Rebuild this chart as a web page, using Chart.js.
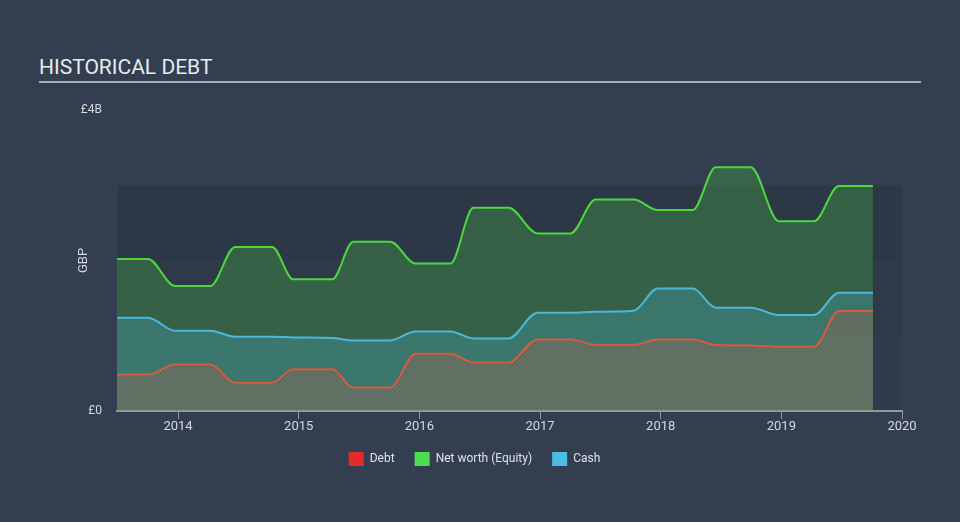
<!DOCTYPE html>
<html>
<head>
<meta charset="utf-8">
<script src="https://cdn.jsdelivr.net/npm/chart.js@4/dist/chart.umd.min.js"></script>
<style>
  html, body { margin: 0; padding: 0; background: #333f50; }
  #wrap { position: relative; width: 960px; height: 522px; overflow: hidden; }
  #title {
    position: absolute; left: 39px; top: 55px; width: 882px;
    font-family: Roboto, sans-serif; font-size: 21px; color: #e8eaec;
    padding-bottom: 2px; border-bottom: 2px solid #a7adb5; line-height: 24px;
  }
  canvas { position: absolute; left: 0; top: 0; }
</style>
</head>
<body>
<div id="wrap">
  <div id="title">HISTORICAL DEBT</div>
  <canvas id="chart" width="960" height="522"></canvas>
</div>
<script>
// plateau boundaries, in years
const dates = [2013.494, 2013.751, 2013.975, 2014.266, 2014.473, 2014.780, 2014.954, 2015.278,
  2015.452, 2015.759, 2015.967, 2016.257, 2016.448, 2016.739, 2016.979, 2017.253,
  2017.461, 2017.776, 2017.975, 2018.266, 2018.456, 2018.747, 2018.979, 2019.270,
  2019.477, 2019.759]

// values in £ billions
const debt = [0.484, 0.484, 0.617, 0.617, 0.377, 0.377, 0.556, 0.556, 0.311, 0.311,
  0.76, 0.76, 0.644, 0.644, 0.951, 0.951, 0.88, 0.88, 0.951, 0.951,
  0.876, 0.872, 0.853, 0.853, 1.329, 1.329]
const netWorth = [2.02, 2.02, 1.66, 1.66, 2.18, 2.18, 1.75, 1.75, 2.25, 2.25,
  1.96, 1.96, 2.70, 2.70, 2.36, 2.36, 2.81, 2.81, 2.67, 2.67,
  3.24, 3.24, 2.52, 2.52, 2.99, 2.99]
const cash = [1.24, 1.24, 1.067, 1.067, 0.987, 0.987, 0.977, 0.969, 0.937, 0.937,
  1.057, 1.057, 0.964, 0.964, 1.307, 1.307, 1.32, 1.333, 1.627, 1.627,
  1.373, 1.373, 1.276, 1.276, 1.573, 1.573]

const yearTicks = [2014, 2015, 2016, 2017, 2018, 2019, 2020]
const valueTicks = [0, 4]

const toPoints = vals => vals.map((v, i) => ({ x: dates[i], y: v }))

// diagonal hatch for the debt area
const hatchCanvas = document.createElement('canvas')
hatchCanvas.width = 4
hatchCanvas.height = 4
const hctx = hatchCanvas.getContext('2d')
hctx.strokeStyle = 'rgba(190, 95, 75, 0.6)'
hctx.lineWidth = 1.4
hctx.beginPath()
hctx.moveTo(-1, 5); hctx.lineTo(5, -1)
hctx.moveTo(-1, 1); hctx.lineTo(1, -1)
hctx.moveTo(3, 5); hctx.lineTo(5, 3)
hctx.stroke()
const hatch = hctx.createPattern(hatchCanvas, 'repeat')

const legendColours = ['#e42a2a', '#4be04b', '#4bbde2']

const plotBands = {
  id: 'plotBands',
  beforeDraw (chart) {
    const { ctx, chartArea } = chart
    const y = chart.scales.y
    const shades = ['rgba(0,0,0,0.06)', 'rgba(0,0,0,0.08)', 'rgba(0,0,0,0.10)']
    for (let i = 0; i < 3; i++) {
      const top = y.getPixelForValue(i + 1)
      const bottom = y.getPixelForValue(i)
      ctx.fillStyle = shades[i]
      ctx.fillRect(chartArea.left, top, chartArea.right - chartArea.left, bottom - top)
    }
  }
}

Chart.defaults.font.family = 'Roboto, sans-serif'

new Chart(document.getElementById('chart').getContext('2d'), {
  type: 'line',
  data: {
    datasets: [
      {
        label: 'Debt',
        data: toPoints(debt),
        borderColor: '#d65a3f',
        backgroundColor: hatch,
        fill: 'origin',
        order: 1
      }, {
        label: 'Net worth (Equity)',
        data: toPoints(netWorth),
        borderColor: '#4ad83e',
        backgroundColor: 'rgba(74, 216, 60, 0.25)',
        fill: 'origin',
        order: 3
      }, {
        label: 'Cash',
        data: toPoints(cash),
        borderColor: '#4ab8dd',
        backgroundColor: 'rgba(75, 185, 225, 0.25)',
        fill: 'origin',
        order: 2
      }
    ]
  },
  options: {
    responsive: false,
    animation: false,
    cubicInterpolationMode: 'monotone',
    elements: {
      point: { radius: 0 },
      line: { borderWidth: 2 }
    },
    layout: { padding: { left: 47, right: 58, top: 110, bottom: 46 } },
    scales: {
      x: {
        type: 'linear',
        min: dates[0],
        max: 2020,
        afterBuildTicks: scale => { scale.ticks = yearTicks.map(v => ({ value: v })) },
        afterFit: scale => { scale.height = 21 },
        ticks: {
          color: '#d4d8de',
          font: { size: 13 },
          padding: 0,
          maxRotation: 0,
          callback: v => String(v)
        },
        grid: {
          drawOnChartArea: false,
          drawTicks: true,
          tickLength: 8,
          color: '#8e99a8'
        },
        border: { color: '#8e99a8', width: 2 }
      },
      y: {
        min: 0,
        max: 4,
        afterBuildTicks: scale => { scale.ticks = valueTicks.map(v => ({ value: v })) },
        afterFit: scale => { scale.width = 70 },
        ticks: {
          color: '#d4d8de',
          font: { size: 12 },
          padding: 15,
          callback: v => v === 0 ? '£0' : '£' + v + 'B'
        },
        grid: { display: false, drawTicks: false },
        border: { display: false },
        title: {
          display: true,
          text: 'GBP',
          color: '#d4d8de',
          font: { size: 13 },
          padding: { top: 29, bottom: 0 }
        }
      }
    },
    plugins: {
      tooltip: { enabled: false },
      legend: {
        position: 'bottom',
        labels: {
          color: '#e0e2e6',
          font: { size: 12 },
          boxWidth: 15,
          boxHeight: 14,
          padding: 20,
          sort: (a, b) => a.datasetIndex - b.datasetIndex,
          generateLabels: chart => Chart.defaults.plugins.legend.labels.generateLabels(chart)
            .map(item => Object.assign(item, {
              fillStyle: legendColours[item.datasetIndex],
              strokeStyle: legendColours[item.datasetIndex],
              lineWidth: 0
            }))
        }
      }
    }
  },
  plugins: [plotBands]
})
</script>
</body>
</html>
